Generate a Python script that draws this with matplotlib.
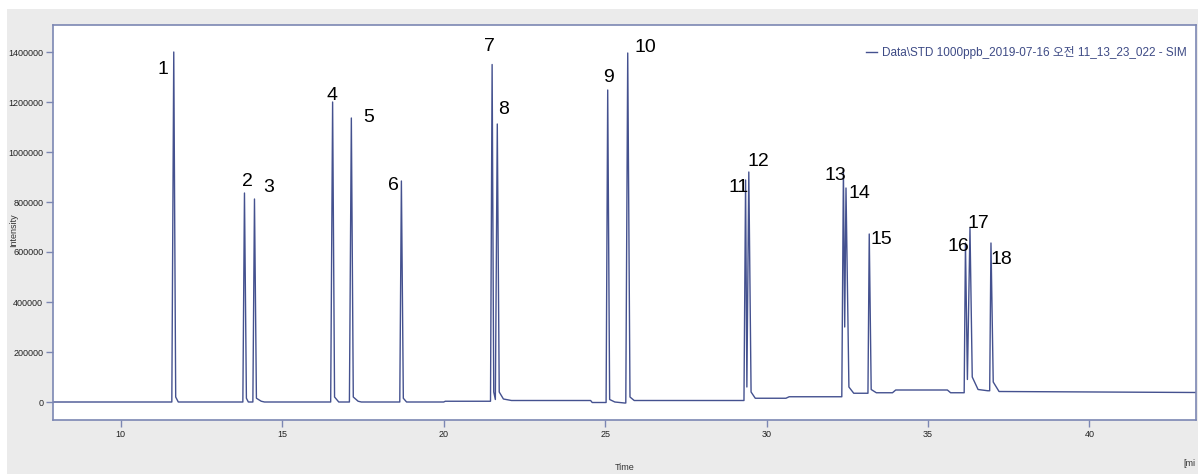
import matplotlib
matplotlib.use("Agg")
import matplotlib.pyplot as plt
from matplotlib.patches import Rectangle

# chromatogram trace (time in min, intensity)
time = [7.9, 11.58, 11.64, 11.70, 11.78,
        13.78, 13.83, 13.89, 13.95,
        14.09, 14.14, 14.20, 14.35, 14.45,
        16.50, 16.56, 16.62, 16.75,
        17.08, 17.14, 17.20, 17.35, 17.45,
        18.64, 18.69, 18.75, 18.85,
        20.0, 20.05,
        21.45, 21.50, 21.55, 21.60, 21.66, 21.72, 21.85, 22.1,
        24.55, 24.6, 25.03, 25.08, 25.14, 25.3, 25.6,
        25.64, 25.70, 25.77, 25.9,
        29.30, 29.35, 29.39, 29.45, 29.52, 29.65,
        30.6, 30.7, 32.33, 32.38, 32.42, 32.46, 32.55, 32.7,
        33.14, 33.18, 33.24, 33.4,
        33.9, 34.0, 35.6, 35.7, 36.12,
        36.16, 36.22, 36.30, 36.37, 36.55, 36.85,
        36.91, 36.95, 37.02, 37.2, 43.3]
intensity = [0, 0, 1400000, 20000, 0,
             0, 836000, 15000, 0,
             0, 812000, 15000, 3000, 0,
             0, 1200000, 20000, 0,
             0, 1136000, 20000, 3000, 0,
             0, 884000, 15000, 0,
             0, 3000,
             3000, 1350000, 40000, 10000, 1112000, 40000, 12000, 6000,
             6000, -2000, -2000, 1248000, 10000, 0, -4000,
             -4000, 1396000, 20000, 6000,
             6000, 888000, 60000, 920000, 40000, 15000,
             15000, 21000, 21000, 928000, 300000, 856000, 60000, 35000,
             35000, 672000, 50000, 37000,
             37000, 48000, 48000, 37000, 37000,
             636000, 90000, 696000, 100000, 50000, 45000,
             45000, 636000, 80000, 42000, 38000]

# peak numbers and apex (time, intensity)
peak_labels = [str(i) for i in range(1, 19)]
peak_time = [11.64, 13.83, 14.14, 16.56, 17.14, 18.69, 21.50, 21.66, 25.08,
             25.70, 29.35, 29.45, 32.38, 32.46, 33.18, 36.16, 36.30, 36.95]
peak_height = [1400000, 836000, 812000, 1200000, 1136000, 884000, 1350000,
               1112000, 1248000, 1396000, 888000, 920000, 928000, 856000,
               672000, 636000, 696000, 636000]
# label offsets from apex, pixels
label_dx = [-11, 3, 14, -1, 17, -8, -3, 6, 1, 18, -7, 10, -8, 13, 12, -7, 8, 10]
label_dy = [-18, 12, 12, 7, 1, -4, 18, 14, 13, 6, -7, 11, -5, -5, -6, -4, 4, -17]

x_ticks = [10, 15, 20, 25, 30, 35, 40]
y_ticks = [0, 200000, 400000, 600000, 800000, 1000000, 1200000, 1400000]
series_name = "Data\\STD 1000ppb_2019-07-16 오전 11_13_23_022 - SIM"

narrow = ['Liberation Sans', 'Noto Sans CJK KR', 'DejaVu Sans']
line_col = '#44518f'
spine_col = '#7c87b3'

fig = plt.figure(figsize=(11.98, 4.74), dpi=100, facecolor='#ebebeb')
fig.patches.append(Rectangle((0, 1 - 9 / 474), 1, 9 / 474, transform=fig.transFigure,
                             facecolor='white', edgecolor='none', zorder=0))
fig.patches.append(Rectangle((0, 0), 7 / 1198, 1, transform=fig.transFigure,
                             facecolor='white', edgecolor='none', zorder=0))

ax = fig.add_axes([53 / 1198, 1 - 420 / 474, (1196 - 53) / 1198, (420 - 25) / 474])
ax.plot(time, intensity, color=line_col, lw=1.0, label=series_name)
ax.set_xlim(7.9, 43.3)
ax.set_ylim(-72000, 1508000)

for lab, t, h, dx, dy in zip(peak_labels, peak_time, peak_height, label_dx, label_dy):
    ax.annotate(lab, (t, h), xytext=(dx, dy), textcoords='offset pixels',
                ha='center', va='center', fontsize=14, family=narrow, color='black')

ax.set_xticks(x_ticks)
ax.set_yticks(y_ticks)
ax.set_xticklabels([str(v) for v in x_ticks], family=narrow, fontsize=6.5, color='#222222')
ax.set_yticklabels([str(v) for v in y_ticks], family=narrow, fontsize=6.5, color='#222222')
ax.tick_params(direction='out', length=5, width=1, color=spine_col, pad=2)
for s in ax.spines.values():
    s.set_color(spine_col)
    s.set_linewidth(1.2)

leg = ax.legend(loc='upper right', frameon=False, handlelength=0.9, handletextpad=0.4,
                prop={'family': narrow, 'size': 8.5}, borderaxespad=0.4,
                bbox_to_anchor=(1.0, 0.97))
for t in leg.get_texts():
    t.set_color('#3d4a85')

fig.text(14 / 1198, 1 - 230 / 474, 'Intensity', rotation=90, ha='center', va='center',
         fontsize=6.5, family=narrow, color='#333333')
fig.text(625 / 1198, 1 - 468 / 474, 'Time', ha='center', va='center',
         fontsize=6.5, family=narrow, color='#333333')
fig.text(1196 / 1198, 1 - 463 / 474, '[mi', ha='right', va='center',
         fontsize=6.5, family=narrow, color='#333333')

fig.savefig('out.png', dpi=100, facecolor=fig.get_facecolor())
